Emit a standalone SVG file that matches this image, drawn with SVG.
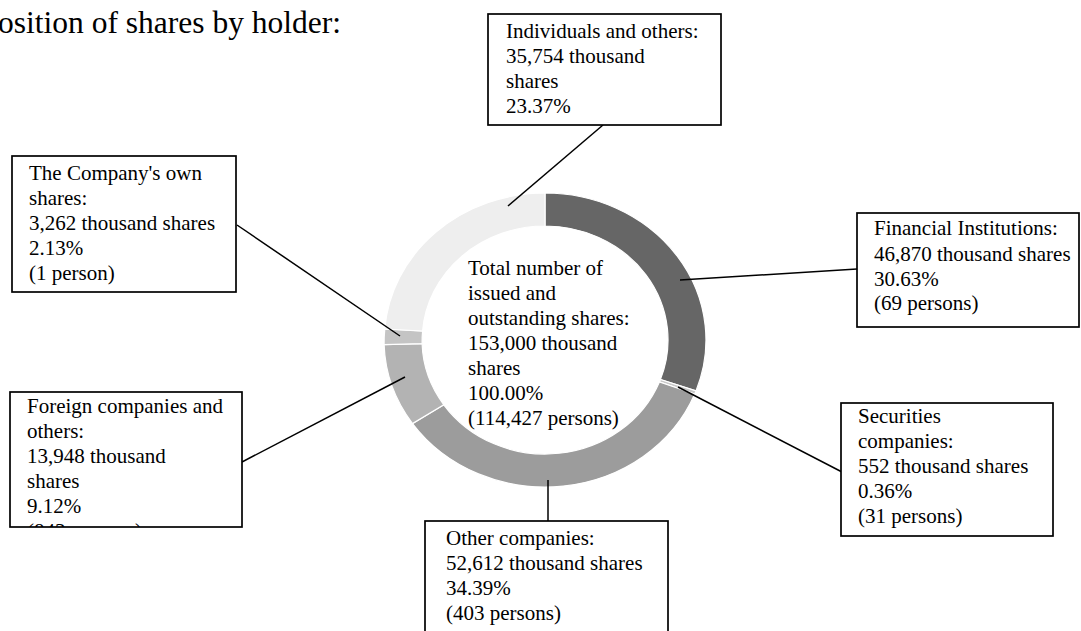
<svg xmlns="http://www.w3.org/2000/svg" width="1081" height="631" viewBox="0 0 1081 631" font-family="'Liberation Serif', 'Times New Roman', 'DejaVu Serif', serif">
<style>
text{font-family:'Liberation Serif','Times New Roman','DejaVu Serif',serif;font-size:21px;fill:#000}
.title{font-size:31.5px}
.box{fill:#fff;stroke:#000;stroke-width:1.7}
.slice{stroke:#fff;stroke-width:1.2}
.lead{stroke:#000;stroke-width:1.5;fill:none}
</style>
<defs>
<clipPath id="clipForeign"><rect x="10" y="392" width="232" height="135"/></clipPath>
</defs>
<rect width="1081" height="631" fill="#fff"/>
<text class="title" x="341" y="33" text-anchor="end">osition of shares by holder:</text>
<g id="donut">
<path class="slice" fill="#666666" d="M545,193 A161,147 0 0 1 696.0,390.9 L660.4,379.5 A123,114 0 0 0 545,226 Z"/>
<path class="slice" fill="#c8c8c8" d="M696.0,390.9 A161,147 0 0 1 694.7,394.0 L659.4,381.9 A123,114 0 0 0 660.4,379.5 Z"/>
<path class="slice" fill="#9c9c9c" d="M694.7,394.0 A161,147 0 0 1 412.5,423.6 L443.8,404.8 A123,114 0 0 0 659.4,381.9 Z"/>
<path class="slice" fill="#b3b3b3" d="M412.5,423.6 A161,147 0 0 1 384.1,344.6 L422.1,343.6 A123,114 0 0 0 443.8,404.8 Z"/>
<path class="slice" fill="#c4c4c4" d="M384.1,344.6 A161,147 0 0 1 384.8,329.0 L422.6,331.0 A123,114 0 0 0 422.1,343.6 Z"/>
<path class="slice" fill="#eeeeee" d="M384.8,329.0 A161,147 0 0 1 545,193 L545,226 A123,114 0 0 0 422.6,331.0 Z"/>
</g>
<g id="center-label">
<text x="468" y="275">Total number of</text>
<text x="468" y="300">issued and</text>
<text x="468" y="325">outstanding shares:</text>
<text x="468" y="350">153,000 thousand</text>
<text x="468" y="375">shares</text>
<text x="468" y="400">100.00%</text>
<text x="468" y="425">(114,427 persons)</text>
</g>
<g id="connectors">
<line class="lead" x1="603" y1="125" x2="508" y2="206"/>
<line class="lead" x1="680" y1="280" x2="857" y2="269"/>
<line class="lead" x1="678" y1="387" x2="842" y2="472"/>
<line class="lead" x1="548" y1="480" x2="548" y2="521"/>
<line class="lead" x1="405" y1="377" x2="242" y2="462"/>
<line class="lead" x1="400" y1="336" x2="237" y2="225"/>
</g>
<g id="individuals">
<rect class="box" x="488" y="14" width="233" height="111"/>
<text x="506" y="38">Individuals and others:</text>
<text x="506" y="63">35,754 thousand</text>
<text x="506" y="88">shares</text>
<text x="506" y="113">23.37%</text>
</g>
<g id="financial">
<rect class="box" x="857" y="213" width="222" height="114"/>
<text x="874" y="235">Financial Institutions:</text>
<text x="874" y="261">46,870 thousand shares</text>
<text x="874" y="286">30.63%</text>
<text x="874" y="310">(69 persons)</text>
</g>
<g id="securities">
<rect class="box" x="841" y="403" width="212" height="133"/>
<text x="858" y="423">Securities</text>
<text x="858" y="448">companies:</text>
<text x="858" y="473">552 thousand shares</text>
<text x="858" y="498">0.36%</text>
<text x="858" y="523">(31 persons)</text>
</g>
<g id="other-companies">
<rect class="box" x="425" y="521" width="243" height="125"/>
<text x="446" y="545">Other companies:</text>
<text x="446" y="570">52,612 thousand shares</text>
<text x="446" y="595">34.39%</text>
<text x="446" y="620">(403 persons)</text>
</g>
<g id="foreign">
<rect class="box" x="10" y="392" width="232" height="135"/>
<g clip-path="url(#clipForeign)">
<text x="27" y="413">Foreign companies and</text>
<text x="27" y="438">others:</text>
<text x="27" y="463">13,948 thousand</text>
<text x="27" y="488">shares</text>
<text x="27" y="513">9.12%</text>
<text x="27" y="538">(843 persons)</text>
</g>
</g>
<g id="own-shares">
<rect class="box" x="12" y="156" width="224" height="136"/>
<text x="29" y="180">The Company's own</text>
<text x="29" y="205">shares:</text>
<text x="29" y="230">3,262 thousand shares</text>
<text x="29" y="255">2.13%</text>
<text x="29" y="280">(1 person)</text>
</g>
</svg>
